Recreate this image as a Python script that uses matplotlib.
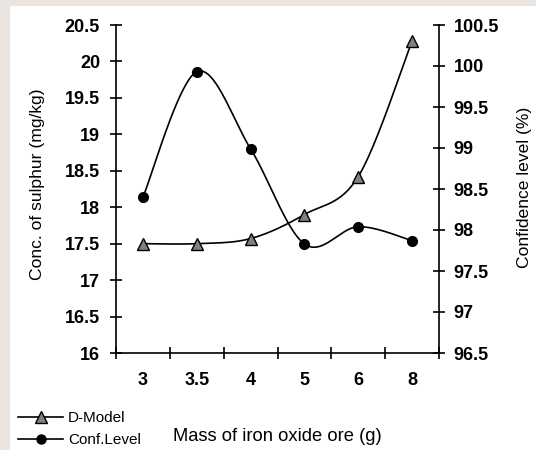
import numpy as np
import matplotlib
matplotlib.use("Agg")
import matplotlib.pyplot as plt
from matplotlib.lines import Line2D
from matplotlib.patches import Rectangle

plt.rcParams['font.family'] = ['Liberation Sans', 'DejaVu Sans']

categories = ["3", "3.5", "4", "5", "6", "8"]
d_model = [17.5, 17.5, 17.57, 17.9, 18.42, 20.28]
conf_level = [98.4, 99.93, 98.99, 97.83, 98.04, 97.87]
left_ticks = [16, 16.5, 17, 17.5, 18, 18.5, 19, 19.5, 20, 20.5]
right_ticks = [96.5, 97, 97.5, 98, 98.5, 99, 99.5, 100, 100.5]


def excel_smooth(xs, ys, n=40):
    xs = np.asarray(xs, float)
    ys = np.asarray(ys, float)
    px, py = [], []
    m = len(xs)
    for i in range(m - 1):
        x0, y0 = (xs[i - 1], ys[i - 1]) if i > 0 else (xs[i], ys[i])
        x1, y1 = xs[i], ys[i]
        x2, y2 = xs[i + 1], ys[i + 1]
        x3, y3 = (xs[i + 2], ys[i + 2]) if i + 2 < m else (xs[i + 1], ys[i + 1])
        c1x, c1y = x1 + (x2 - x0) / 6, y1 + (y2 - y0) / 6
        c2x, c2y = x2 - (x3 - x1) / 6, y2 - (y3 - y1) / 6
        t = np.linspace(0, 1, n)
        bx = (1 - t) ** 3 * x1 + 3 * (1 - t) ** 2 * t * c1x + 3 * (1 - t) * t ** 2 * c2x + t ** 3 * x2
        by = (1 - t) ** 3 * y1 + 3 * (1 - t) ** 2 * t * c1y + 3 * (1 - t) * t ** 2 * c2y + t ** 3 * y2
        px.extend(bx)
        py.extend(by)
    return np.array(px), np.array(py)


fig = plt.figure(figsize=(5.36, 4.5), dpi=100, facecolor="#ebe5df")
bg = Rectangle((10 / 536, 0), 1, 444 / 450, transform=fig.transFigure,
               facecolor="white", edgecolor="none", zorder=-10)
fig.add_artist(bg)

ax = fig.add_axes([116 / 536, 97 / 450, 323 / 536, 328 / 450])
ax.patch.set_alpha(0)
ax2 = ax.twinx()
ax2.patch.set_alpha(0)

x = np.arange(len(categories))

sx, sy = excel_smooth(x, d_model)
ax.plot(sx, sy, color="black", lw=1.2, zorder=2)
ax.plot(x, d_model, linestyle="none", marker="^", markersize=9,
        markerfacecolor="#808080", markeredgecolor="black", markeredgewidth=1, zorder=3)

cx, cy = excel_smooth(x, conf_level)
ax2.plot(cx, cy, color="black", lw=1.2, zorder=2)
ax2.plot(x, conf_level, linestyle="none", marker="o", markersize=7,
         markerfacecolor="black", markeredgecolor="black", zorder=3)

ax.set_xlim(-0.5, len(categories) - 0.5)
ax.set_ylim(16, 20.5)
ax2.set_ylim(96.5, 100.5)

ax.set_xticks(x)
ax.set_xticklabels(categories, fontsize=13, fontweight="bold")
ax.tick_params(axis="x", which="major", length=0, pad=14)
ax.set_xticks(np.arange(-0.5, len(categories), 1.0), minor=True)
ax.tick_params(axis="x", which="minor", direction="inout", length=8, width=1.2)

ax.set_yticks(left_ticks)
ax.set_yticklabels([f"{v:g}" for v in left_ticks], fontsize=13, fontweight="bold")
ax.tick_params(axis="y", direction="inout", length=9, width=1.2, pad=7)

ax2.set_yticks(right_ticks)
ax2.set_yticklabels([f"{v:g}" for v in right_ticks], fontsize=13, fontweight="bold")
ax2.tick_params(axis="y", direction="inout", length=9, width=1.2, pad=6)

for a in (ax, ax2):
    a.spines["top"].set_visible(False)
    a.spines["left"].set_linewidth(1.2)
    a.spines["right"].set_linewidth(1.2)
    a.spines["bottom"].set_linewidth(1.2)
ax2.spines["left"].set_visible(False)
ax2.spines["bottom"].set_visible(False)
ax.spines["right"].set_visible(False)

ax.set_ylabel("Conc. of sulphur (mg/kg)", fontsize=12.6)
ax.yaxis.set_label_coords(-0.22, 0.515)
ax2.set_ylabel("Confidence level (%)", fontsize=12.6, rotation=90)
ax2.yaxis.set_label_coords(1.243, 0.506)
ax.set_xlabel("Mass of iron oxide ore (g)", fontsize=13.2)
ax.xaxis.set_label_coords(0.5, -0.228)

handles = [
    Line2D([], [], color="black", lw=1.2, marker="^", markersize=8,
           markerfacecolor="#808080", markeredgecolor="black"),
    Line2D([], [], color="black", lw=1.2, marker="o", markersize=6.5,
           markerfacecolor="black"),
]
fig.legend(handles, ["D-Model", "Conf.Level"], loc="upper left",
           bbox_to_anchor=(18 / 536, 1 - 411 / 450), frameon=False,
           fontsize=11, handlelength=2.95, handletextpad=0.33,
           labelspacing=0.55, borderpad=0, borderaxespad=0)

fig.savefig("out.png", dpi=100, facecolor=fig.get_facecolor())
